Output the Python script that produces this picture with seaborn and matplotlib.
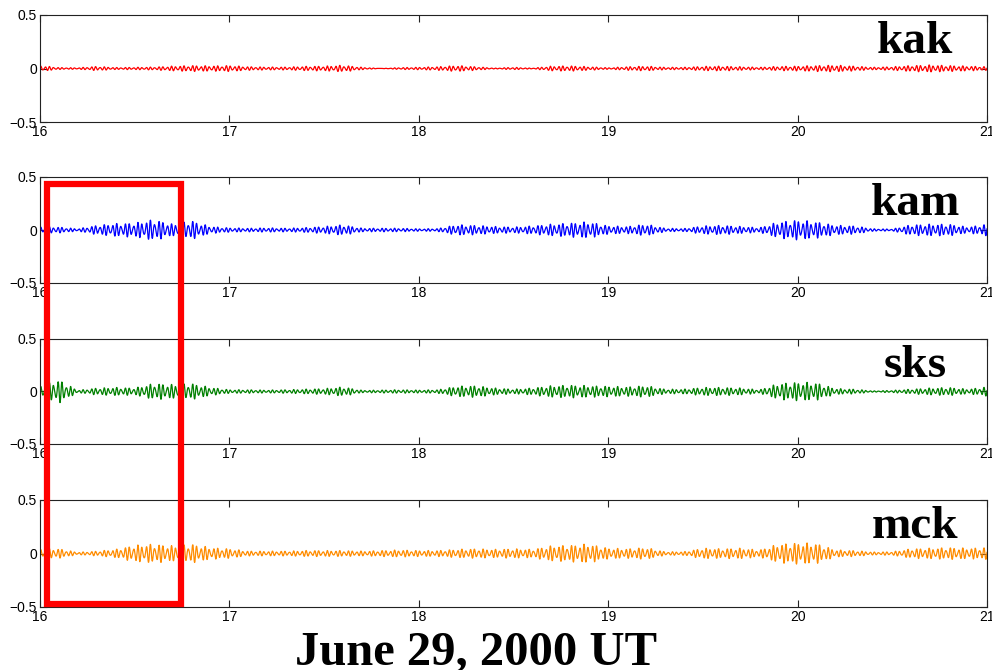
import numpy as np
import pandas as pd
import matplotlib
matplotlib.use("Agg")
import matplotlib.pyplot as plt
from matplotlib.patches import Rectangle
import seaborn as sns

# ---- data ----
stations = ["kak", "kam", "sks", "mck"]
colors = ["#ff0000", "#0000ff", "#008000", "#ff8c00"]
env_hours = [16.0 + 0.1 * i for i in range(51)]  # envelope sample times (UT hours)

kak_env = [0.025, 0.008, 0.006, 0.018, 0.008, 0.010, 0.012, 0.020, 0.025, 0.022,
           0.025, 0.015, 0.012, 0.012, 0.018, 0.020, 0.028, 0.010, 0.000, 0.008,
           0.010, 0.015, 0.025, 0.015, 0.003, 0.010, 0.003, 0.020, 0.022, 0.015,
           0.006, 0.015, 0.020, 0.010, 0.010, 0.018, 0.020, 0.015, 0.010, 0.018,
           0.020, 0.025, 0.028, 0.020, 0.010, 0.015, 0.025, 0.030, 0.025, 0.020, 0.015]
kam_env = [0.030, 0.025, 0.010, 0.040, 0.055, 0.060, 0.090, 0.050, 0.080, 0.030,
           0.018, 0.015, 0.018, 0.015, 0.020, 0.030, 0.045, 0.015, 0.015, 0.015,
           0.010, 0.012, 0.045, 0.040, 0.030, 0.025, 0.035, 0.050, 0.060, 0.070,
           0.035, 0.030, 0.050, 0.015, 0.012, 0.035, 0.040, 0.030, 0.020, 0.070,
           0.085, 0.070, 0.040, 0.035, 0.010, 0.008, 0.045, 0.050, 0.050, 0.025, 0.050]
sks_env = [0.050, 0.100, 0.010, 0.030, 0.035, 0.030, 0.070, 0.060, 0.070, 0.035,
           0.015, 0.015, 0.012, 0.015, 0.020, 0.025, 0.040, 0.010, 0.012, 0.015,
           0.012, 0.015, 0.045, 0.050, 0.030, 0.020, 0.030, 0.050, 0.055, 0.050,
           0.045, 0.040, 0.050, 0.020, 0.020, 0.035, 0.035, 0.030, 0.015, 0.070,
           0.080, 0.075, 0.025, 0.020, 0.005, 0.010, 0.020, 0.030, 0.035, 0.020, 0.040]
mck_env = [0.040, 0.040, 0.010, 0.020, 0.035, 0.070, 0.080, 0.065, 0.080, 0.050,
           0.040, 0.020, 0.020, 0.020, 0.025, 0.025, 0.025, 0.020, 0.025, 0.030,
           0.025, 0.025, 0.035, 0.040, 0.035, 0.040, 0.035, 0.065, 0.070, 0.080,
           0.045, 0.040, 0.050, 0.015, 0.015, 0.045, 0.040, 0.045, 0.030, 0.080,
           0.090, 0.085, 0.030, 0.025, 0.012, 0.015, 0.040, 0.045, 0.050, 0.045, 0.050]
envelopes = [kak_env, kam_env, sks_env, mck_env]

x_ticks = [16, 17, 18, 19, 20, 21]
y_ticks = [-0.5, 0, 0.5]
y_tick_labels = ["\u22120.5", "0", "0.5"]
title_text = "June 29, 2000 UT"

# Pc3 carrier periods (cycles per hour)
carrier_cph = [45.0, 62.0]

# ---- build traces ----
t = np.arange(16.0, 21.0 + 1e-9, 1.0 / 720.0)
carrier = np.sin(2 * np.pi * carrier_cph[0] * t) + 0.35 * np.sin(2 * np.pi * carrier_cph[1] * t + 1.0)
carrier /= 1.2
frames = []
for name, env in zip(stations, envelopes):
    amp = np.interp(t, env_hours, env)
    frames.append(pd.DataFrame({"hour": t, "value": amp * carrier, "station": name}))
df = pd.concat(frames, ignore_index=True)

# ---- figure ----
sns.set_style("ticks")
plt.rcParams["font.family"] = ["Liberation Sans", "DejaVu Sans"]
plt.rcParams["text.color"] = "black"
plt.rcParams["axes.labelcolor"] = "black"
plt.rcParams["xtick.color"] = "black"
plt.rcParams["ytick.color"] = "black"

W, H = 992, 670
fig = plt.figure(figsize=(W / 100, H / 100), dpi=100)
fig.patch.set_facecolor("white")

left_px, right_px = 40, 987
panels_px = [(15, 122), (177, 283), (339, 444), (500, 607)]
label_baseline_px = [53, 215, 377, 538]

axes = []
for i, (name, col) in enumerate(zip(stations, colors)):
    top, bot = panels_px[i]
    ax = fig.add_axes([left_px / W, 1 - bot / H, (right_px - left_px) / W, (bot - top) / H])
    sub = df[df["station"] == name]
    sns.lineplot(data=sub, x="hour", y="value", ax=ax, color=col, linewidth=0.9,
                 estimator=None, sort=False, legend=False)
    ax.set_xlim(16, 21)
    ax.set_ylim(-0.5, 0.5)
    ax.set_xticks(x_ticks)
    ax.set_xticklabels([str(v) for v in x_ticks])
    ax.set_yticks(y_ticks)
    ax.set_yticklabels(y_tick_labels)
    ax.set_xlabel("")
    ax.set_ylabel("")
    ax.tick_params(direction="in", length=5, width=0.8, top=True, right=True,
                   labelsize=10, pad=2, colors="#222222", labelcolor="black")
    for sp in ax.spines.values():
        sp.set_linewidth(0.8)
        sp.set_color("#222222")
    fig.text(915 / W, 1 - label_baseline_px[i] / H, name, ha="center", va="baseline",
             fontsize=34, fontweight="bold", color="black",
             family=["Liberation Serif", "DejaVu Serif"])
    axes.append(ax)

# red highlight box spanning kam..mck panels
x0_h, x1_h = 16.037, 16.744
y_top, y_bot = 0.434, -0.476
inv = fig.transFigure.inverted()
p_top = inv.transform(axes[1].transData.transform((x0_h, y_top)))
p_bot = inv.transform(axes[3].transData.transform((x1_h, y_bot)))
rect = Rectangle((p_top[0], p_bot[1]), p_bot[0] - p_top[0], p_top[1] - p_bot[1],
                 transform=fig.transFigure, fill=False, edgecolor="#ff0000",
                 linewidth=4.5, clip_on=False, zorder=10)
fig.patches.append(rect)

fig.text(476 / W, 1 - 664 / H, title_text, ha="center", va="baseline",
         fontsize=35, fontweight="bold", color="black",
         family=["Liberation Serif", "DejaVu Serif"])

fig.savefig("out.png", dpi=100, facecolor="white")
